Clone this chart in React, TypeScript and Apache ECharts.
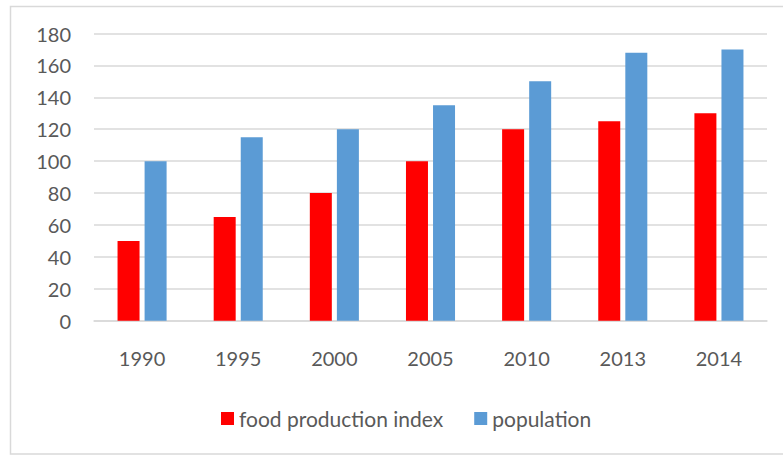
import React, { useEffect, useRef } from "react";
import * as echarts from "echarts";

const years = ["1990", "1995", "2000", "2005", "2010", "2013", "2014"];
const foodProductionIndex = [50, 65, 80, 100, 120, 125, 130];
const population = [100, 115, 120, 135, 150, 168, 170];

const TEXT = "#595959";
const GRID_LINE = "#d9d9d9";
const FONT = "Lato, 'Open Sans', sans-serif";

export default function App() {
  const ref = useRef<HTMLDivElement>(null);

  useEffect(() => {
    if (!ref.current) return;
    const chart = echarts.init(ref.current, null, { renderer: "svg" });
    chart.setOption({
      animation: false,
      backgroundColor: "#ffffff",
      textStyle: { fontFamily: FONT },
      graphic: [
        {
          type: "rect",
          shape: { x: 10.5, y: 6.5, width: 790, height: 447.5 },
          style: { fill: "none", stroke: GRID_LINE, lineWidth: 1.5 },
          silent: true,
        },
      ],
      grid: { left: 94, right: 16, top: 33.5, bottom: 134.3 },
      legend: {
        left: 216,
        top: 403,
        icon: "rect",
        itemWidth: 13,
        itemHeight: 13,
        itemGap: 31,
        textStyle: { color: TEXT, fontSize: 21, fontFamily: FONT },
        data: ["food production index", "population"],
      },
      xAxis: {
        type: "category",
        data: years,
        axisLine: { lineStyle: { color: GRID_LINE, width: 1.5 } },
        axisTick: { show: false },
        axisLabel: { color: TEXT, fontSize: 20, margin: 27, fontFamily: FONT },
      },
      yAxis: {
        type: "value",
        min: 0,
        max: 180,
        interval: 20,
        axisLine: { show: false },
        axisTick: { show: false },
        splitLine: { lineStyle: { color: GRID_LINE, width: 1.5 } },
        axisLabel: { color: TEXT, fontSize: 20, margin: 23, fontFamily: FONT },
      },
      series: [
        {
          name: "food production index",
          type: "bar",
          data: foodProductionIndex,
          barWidth: 22,
          barGap: "23%",
          itemStyle: { color: "#ff0000" },
        },
        {
          name: "population",
          type: "bar",
          data: population,
          barWidth: 22,
          itemStyle: { color: "#5b9bd5" },
        },
      ],
    });
    return () => chart.dispose();
  }, []);

  return (
    <div
      ref={ref}
      style={{ position: "fixed", left: 0, top: 0, width: 783, height: 455 }}
    />
  );
}
